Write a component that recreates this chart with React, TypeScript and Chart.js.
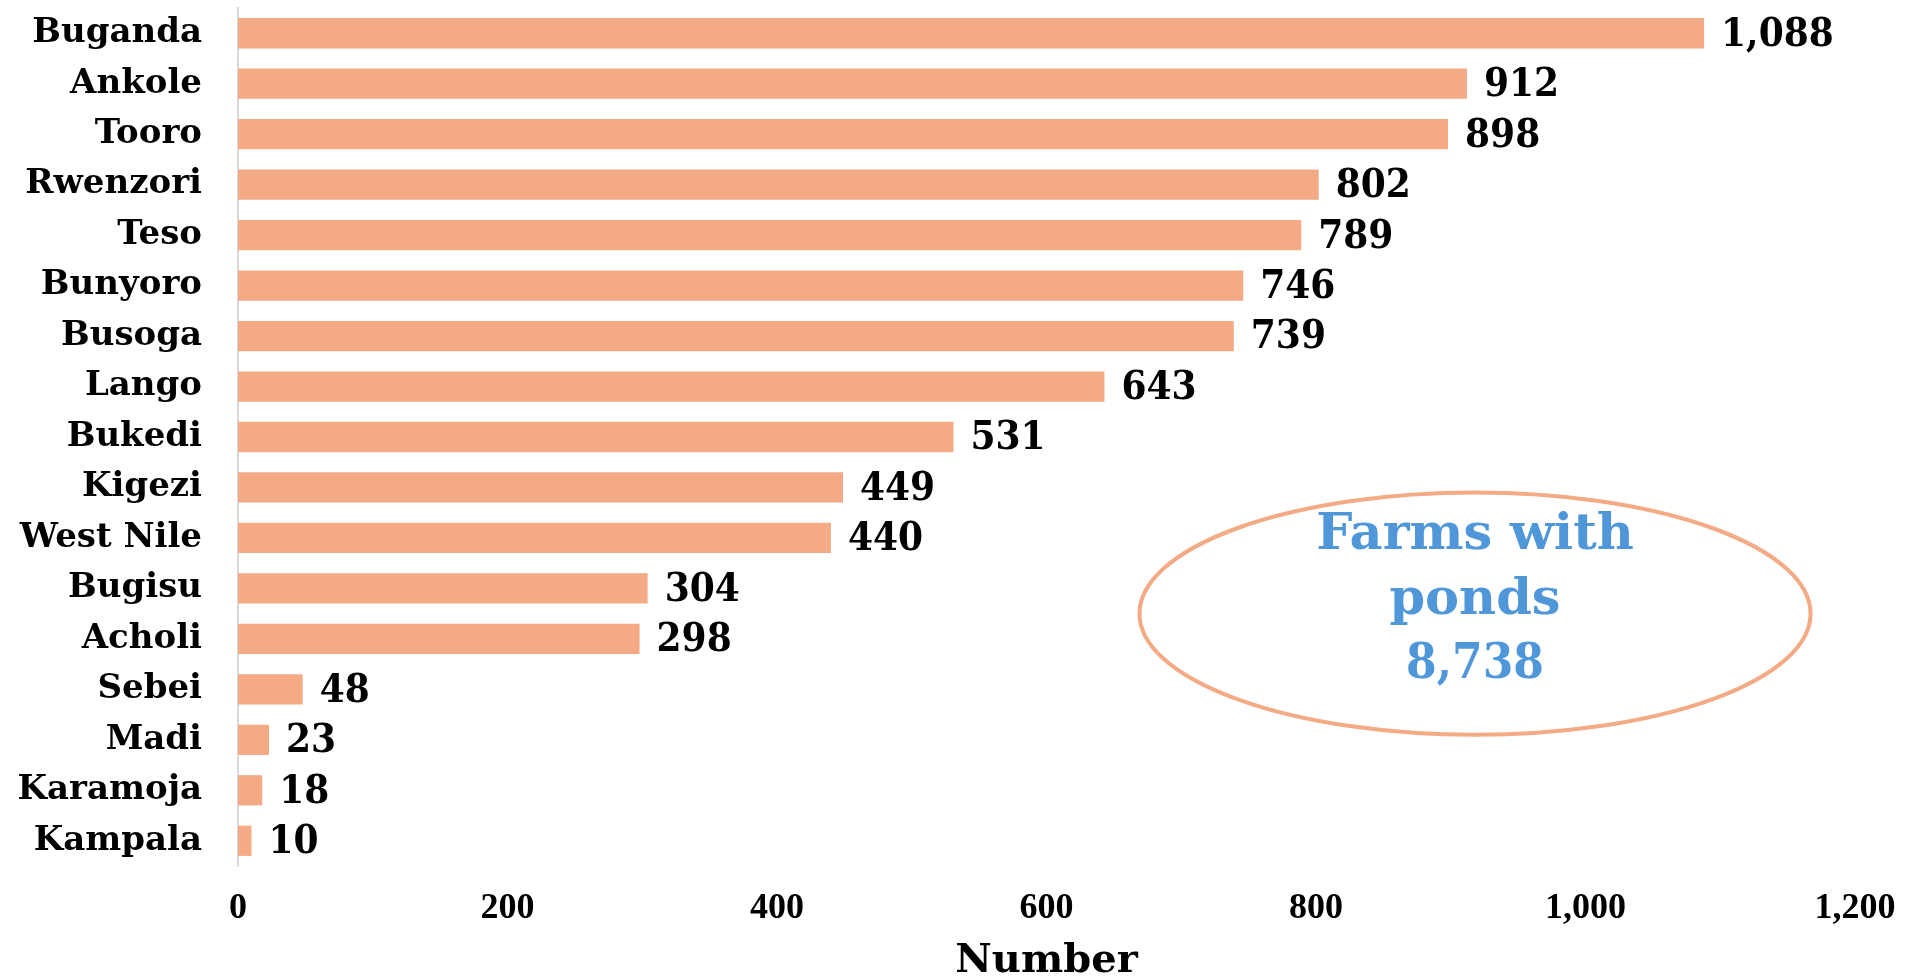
import { useEffect, useRef } from "react";
import { Chart, registerables } from "chart.js";

Chart.register(...registerables);

const regions = [
  "Buganda", "Ankole", "Tooro", "Rwenzori", "Teso", "Bunyoro", "Busoga", "Lango",
  "Bukedi", "Kigezi", "West Nile", "Bugisu", "Acholi", "Sebei", "Madi", "Karamoja", "Kampala",
];
const farmsWithPonds = [1088, 912, 898, 802, 789, 746, 739, 643, 531, 449, 440, 304, 298, 48, 23, 18, 10];
const xMin = 0;
const xMax = 1200;
const xStep = 200;
const axisTitle = "Number";
const calloutWords = ["Farms with", "ponds"];
const calloutTotal = "8,738";
// callout centre/radii expressed in data units (value axis, category index)
const calloutCenter = [918, 11.5];
const calloutRadius = [249, 2.4];

const BAR = "#F3AA85";
const BLUE = "#5097D9";
const SERIF = '"DejaVu Serif", serif';
const SERIF_C = '"DejaVu Serif Condensed", "DejaVu Serif", serif';
const TIMES = '"Liberation Serif", "Times New Roman", serif';

const fmt = (v: number) => v.toLocaleString("en-US");

const overlayPlugin = {
  id: "overlay",
  afterDatasetsDraw(chart: any) {
    const ctx = chart.ctx as CanvasRenderingContext2D;
    const meta = chart.getDatasetMeta(0);
    const data = chart.data.datasets[0].data as number[];
    ctx.save();
    ctx.fillStyle = "#000";
    ctx.font = `bold 40px ${SERIF_C}`;
    ctx.textAlign = "left";
    ctx.textBaseline = "middle";
    meta.data.forEach((bar: any, i: number) => {
      ctx.fillText(fmt(data[i]), bar.x + 17, bar.y + 2);
    });

    const xs = chart.scales.x;
    const ys = chart.scales.y;
    const cx = xs.getPixelForValue(calloutCenter[0]);
    const cy = ys.getPixelForValue(calloutCenter[1]);
    const rx = xs.getPixelForValue(calloutCenter[0] + calloutRadius[0]) - cx;
    const ry = ys.getPixelForValue(calloutCenter[1] + calloutRadius[1]) - cy;
    ctx.beginPath();
    ctx.ellipse(cx, cy, Math.abs(rx), Math.abs(ry), 0, 0, Math.PI * 2);
    ctx.strokeStyle = BAR;
    ctx.lineWidth = 4;
    ctx.stroke();

    ctx.fillStyle = BLUE;
    ctx.textAlign = "center";
    const lh = 65;
    const midY = cy - 13;
    ctx.font = `bold 51px ${SERIF}`;
    ctx.fillText(calloutWords[0], cx, midY - lh);
    ctx.fillText(calloutWords[1], cx, midY);
    ctx.font = `bold 49px ${SERIF_C}`;
    ctx.fillText(calloutTotal, cx, midY + lh);
    ctx.restore();
  },
};

export default function App() {
  const ref = useRef<HTMLCanvasElement>(null);
  useEffect(() => {
    document.body.style.margin = "0";
    const canvas = ref.current!;
    const chart = new Chart(canvas, {
      type: "bar",
      data: {
        labels: regions,
        datasets: [
          {
            data: farmsWithPonds,
            backgroundColor: BAR,
            borderWidth: 0,
            barPercentage: 0.6,
            categoryPercentage: 1,
          },
        ],
      },
      options: {
        indexAxis: "y",
        responsive: false,
        animation: false,
        devicePixelRatio: 1,
        layout: { padding: { top: 8, right: 56, left: 0, bottom: 0 } },
        plugins: { legend: { display: false }, tooltip: { enabled: false } },
        scales: {
          x: {
            min: xMin,
            max: xMax,
            afterFit: (s: any) => {
              s.height = 111;
              s.paddingLeft = 0;
              s.paddingRight = 0;
            },
            grid: { display: false, drawTicks: false },
            border: { display: false },
            ticks: {
              stepSize: xStep,
              padding: 25,
              color: "#000",
              font: { family: TIMES, size: 36, weight: "bold", lineHeight: 1 },
              callback: (v: any) => fmt(Number(v)),
              maxRotation: 0,
            },
            title: {
              display: true,
              text: axisTitle,
              color: "#000",
              font: { family: SERIF, size: 40, weight: "bold", lineHeight: 0.75 },
              padding: { top: 0, bottom: 0 },
            },
          },
          y: {
            afterFit: (s: any) => {
              s.width = 238;
              s.paddingTop = 0;
              s.paddingBottom = 0;
            },
            grid: { display: false, drawTicks: false },
            border: { display: true, color: "#D9D9D9", width: 2 },
            ticks: {
              padding: 36,
              color: "#000",
              font: { family: SERIF, size: 34, weight: "bold", lineHeight: 1 },
            },
          },
        },
      },
      plugins: [overlayPlugin],
    } as any);
    return () => chart.destroy();
  }, []);
  return (
    <div style={{ width: 1911, height: 977, position: "relative" }}>
      <canvas ref={ref} width={1911} height={977} style={{ display: "block" }} />
    </div>
  );
}
